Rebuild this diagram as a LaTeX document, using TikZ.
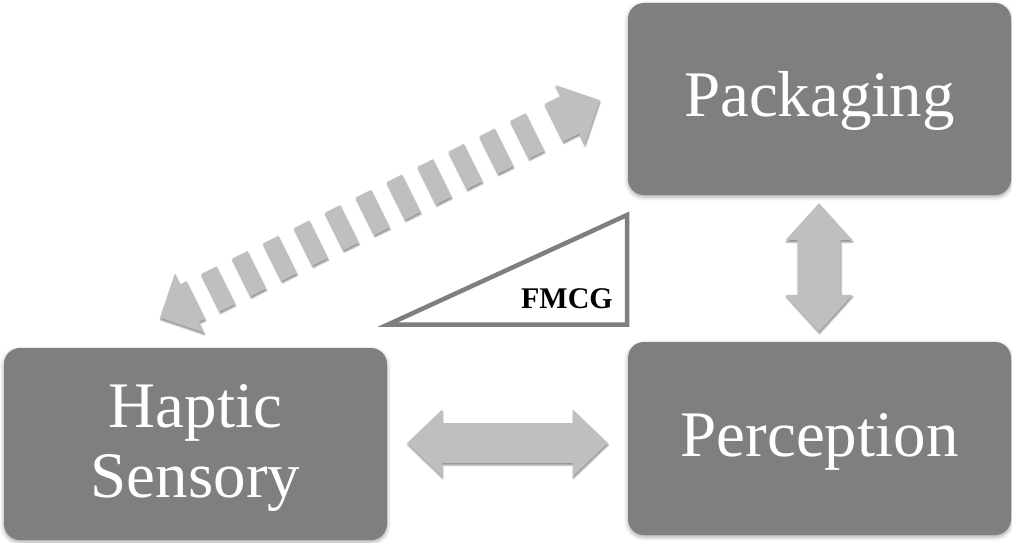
\documentclass[tikz,border=0pt]{standalone}
\usepackage{fontspec}
\setmainfont{Liberation Serif}
\usetikzlibrary{calc,shadows.blur}
\definecolor{boxgray}{HTML}{7F7F7F}
\definecolor{arrowgray}{HTML}{BFBFBF}
\tikzset{
  box/.style={fill=boxgray, rounded corners=16pt, minimum width=383pt,
    minimum height=192pt, inner sep=0pt, text=white, align=center,
    font=\fontsize{65}{70}\selectfont,
    blur shadow={shadow xshift=0pt, shadow yshift=-2pt,
      shadow blur radius=4pt, shadow opacity=35}},
  oneline/.style={text height=50pt},
  twoline/.style={text depth=6pt},
  arrowfill/.style={fill=arrowgray,
    blur shadow={shadow xshift=0.5pt, shadow yshift=-2pt,
      shadow blur radius=1.5pt, shadow opacity=45}},
  wedge/.style={draw=boxgray, line width=4.5pt, line join=miter, fill=white},
  tag/.style={inner sep=0pt, font=\fontsize{30}{30}\selectfont\bfseries}
}
% wide double-headed arrow between two points:
% #1 start, #2 end, #3 head length, #4 head half width, #5 shaft half width
\newcommand\fatarrow[5]{%
  \path let \p1=(#1), \p2=(#2),
    \n1={atan2(\y2-\y1,\x2-\x1)}, \n2={veclen(\x2-\x1,\y2-\y1)} in
    \pgfextra{\pgfmathsetmacro\faang{\n1}\pgfmathsetmacro\falen{\n2}%
      \global\let\faang\faang\global\let\falen\falen};
  \begin{scope}[shift={(#1)}, rotate=\faang]
    \fill[arrowfill] (0,0) -- (#3,#4) -- (#3,#5) -- (\falen-#3,#5)
      -- (\falen-#3,#4) -- (\falen,0) -- (\falen-#3,-#4) -- (\falen-#3,-#5)
      -- (#3,-#5) -- (#3,-#4) -- cycle;
  \end{scope}}
\begin{document}
\begin{tikzpicture}[x=1pt,y=1pt]
\useasboundingbox (0,0) rectangle (1012,542);

% the three blocks
\node[box, oneline] (pk) at (819.5,443) {Packaging};
\node[box, oneline, minimum height=193pt] (pc) at (819.5,103.5) {Perception};
\node[box, twoline] (hs) at (195.5,98) {Haptic\\Sensory};

% FMCG wedge
\draw[wedge] (388,217.5) -- (627,327) -- (627,217.5) -- cycle;
\node[tag, anchor=base east] (fm) at (613,234) {FMCG};

% solid links
\fatarrow{$(hs.east)+(20,1)$}{$(pc.west |- hs.east)+(-20,1)$}{35}{33.5}{20}
\fatarrow{$(pc.north)+(-0.5,10)$}{$(pk.south)+(-0.5,-8)$}{37}{33.5}{21.5}

% striped link between Haptic Sensory and Packaging
\coordinate (dl) at ($(hs.north)+(-35.5,30)$);
\coordinate (du) at ($(pk.west)+(-28,-1)$);
\path let \p1=(dl), \p2=(du),
  \n1={atan2(\y2-\y1,\x2-\x1)}, \n2={veclen(\x2-\x1,\y2-\y1)} in
  \pgfextra{\pgfmathsetmacro\dang{\n1}\pgfmathsetmacro\dlen{\n2}%
    \global\let\dang\dang\global\let\dlen\dlen};
\begin{scope}[shift={(dl)}, rotate=\dang]
  \fill[arrowfill] (0,0) -- (33,33) -- (33,21) -- (40,21) -- (40,-21)
    -- (33,-21) -- (33,-33) -- cycle;
  \fill[arrowfill] (\dlen,0) -- ++(-33,33) -- ++(0,-12) -- ++(-18,0)
    -- ++(0,-42) -- ++(18,0) -- ++(0,-12) -- cycle;
  \foreach \k in {0,...,10}
    \fill[arrowfill] ({65+34.5*\k-8.5},-21) rectangle ++(17,42);
\end{scope}
\end{tikzpicture}
\end{document}
